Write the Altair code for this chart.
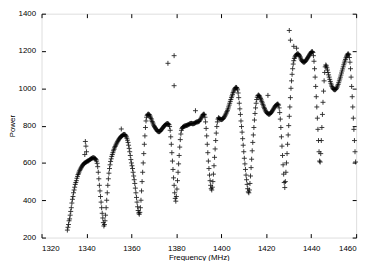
import altair as alt
import pandas as pd

# Sampling grid of the sweep (MHz)
FREQ_START = 1331.5
FREQ_STEP = 0.25

# Power, one value per sample
power = [
    240, 255,
    270, 290, 300, 320,
    340, 360, 385, 405,
    420, 440, 455, 470,
    485, 495, 505, 518,
    528, 538, 545, 552,
    560, 566, 572, 577,
    582, 587, 591, 595,
    598, 600, 602, 604,
    606, 608, 610, 611,
    612, 615, 618, 620,
    622, 624, 625, 627,
    628, 627, 626, 624,
    622, 618, 610, 598,
    580, 550, 515, 480,
    450, 420, 390, 360,
    330, 305, 280, 262,
    270, 290, 320, 360,
    400, 440, 480, 515,
    545, 570, 590, 608,
    622, 635, 645, 655,
    665, 673, 681, 688,
    695, 701, 707, 713,
    718, 723, 728, 732,
    736, 740, 743, 745,
    748, 750, 752, 753,
    752, 750, 746, 740,
    732, 722, 710, 695,
    678, 660, 640, 618,
    600, 585, 570, 550,
    530, 510, 490, 465,
    440, 415, 390, 365,
    345, 332, 325, 335,
    360, 400, 450, 500,
    550, 600, 650, 700,
    745, 790, 825, 845,
    855, 860, 862, 860,
    858, 852, 845, 838,
    830, 822, 815, 808,
    800, 795, 790, 785,
    780, 776, 772, 770,
    768, 767, 768, 770,
    773, 777, 781, 785,
    789, 793, 797, 800,
    803, 806, 808, 810,
    811, 810, 808, 805,
    795, 775, 740, 700,
    655, 610, 565, 520,
    480, 440, 410, 395,
    420, 460, 505, 550,
    595, 640, 685, 725,
    755, 775, 785, 790,
    793, 795, 797, 798,
    799, 800, 801, 802,
    803, 805, 806, 808,
    810, 811, 812, 812,
    811, 810, 810, 811,
    812, 814, 816, 818,
    819, 820, 820, 821,
    822, 825, 830, 835,
    840, 846, 852, 857,
    860, 862, 858, 845,
    820, 785, 745, 700,
    655, 610, 570, 535,
    505, 480, 462, 455,
    470, 500, 540, 585,
    630, 675, 720, 760,
    795, 820, 835, 842,
    840, 837, 835, 833,
    832, 833, 835, 837,
    840, 845, 850, 856,
    862, 868, 875, 882,
    890, 900, 910, 920,
    930, 940, 950, 959,
    968, 977, 985, 992,
    998, 1002, 1005, 1004,
    1000, 992, 975, 950,
    920, 890, 860, 825,
    795, 765, 730, 695,
    660, 625, 595, 565,
    535, 510, 485, 462,
    445, 440, 455, 490,
    530, 575, 620, 665,
    710, 750, 790, 830,
    865, 895, 920, 940,
    952, 960, 964, 962,
    958, 952, 945, 938,
    930, 922, 914, 906,
    898, 891, 884, 878,
    873, 869, 866, 864,
    862, 861, 862, 864,
    867, 871, 875, 880,
    885, 890, 895, 900,
    904, 908, 911, 914,
    915, 915, 910, 895,
    870, 835, 790, 740,
    690, 640, 590, 540,
    495, 468, 500, 550,
    600, 650, 700, 750,
    800, 850, 900, 950,
    1000, 1040, 1075, 1105,
    1130, 1148, 1160, 1168,
    1174, 1178, 1182, 1184,
    1185, 1184, 1181, 1176,
    1170, 1163, 1156, 1150,
    1146, 1143, 1141, 1140,
    1141, 1143, 1146, 1150,
    1155, 1160, 1165, 1170,
    1175, 1180, 1185, 1189,
    1193, 1196, 1197, 1192,
    1175, 1145, 1105, 1060,
    1010, 955, 900, 840,
    780, 720, 660, 610,
    605, 650, 720, 790,
    860, 925, 985, 1040,
    1085, 1115, 1125, 1120,
    1110, 1098, 1085, 1072,
    1060, 1048, 1037, 1027,
    1018, 1010, 1003, 998,
    995, 993, 992, 993,
    996, 1000, 1006, 1013,
    1021, 1030, 1040, 1050,
    1060, 1071, 1082, 1093,
    1104, 1115, 1126, 1136,
    1146, 1155, 1164, 1172,
    1178, 1183, 1185, 1180,
    1165, 1140, 1105, 1060,
    1010, 955, 900, 840,
    780, 720, 660, 605,
]

# Stray samples lying off the curve
out_freq = [1339.25, 1339.5, 1339.75, 1340.0, 1355.5, 1376.25, 1379.0, 1379.0,
            1388.5, 1420.75, 1430.25, 1430.75, 1432.25, 1433.5]
out_power = [645, 715, 690, 660, 782, 1134, 1175, 1014,
             880, 962, 1310, 1258, 1225, 1215]

x_ticks = [1320, 1340, 1360, 1380, 1400, 1420, 1440, 1460]
y_ticks = [200, 400, 600, 800, 1000, 1200, 1400]

main = pd.DataFrame({
    "f": [FREQ_START + i * FREQ_STEP for i in range(len(power))],
    "p": power,
})
outl = pd.DataFrame({"f": out_freq, "p": out_power})

PLUS = "M-1,0L1,0M0,-1L0,1"
FONT = "Liberation Sans"

xs = alt.Scale(domain=[1320, 1460], nice=False, zero=False)
ys = alt.Scale(domain=[200, 1400], nice=False, zero=False)

ax_common = dict(domain=False, grid=False, tickSize=4, offset=-4,
                 tickColor="black", tickWidth=1, format="d",
                 labelFont=FONT, labelFontSize=8, labelColor="black",
                 titleFont=FONT, titleFontSize=8, titleFontWeight="normal",
                 titleColor="black")

mark_kw = dict(shape=PLUS, filled=False, stroke="black", strokeWidth=0.9,
               size=25, opacity=0.85)

main_layer = alt.Chart(main).mark_point(**mark_kw).encode(
    x=alt.X("f:Q", scale=xs,
            axis=alt.Axis(values=x_ticks, title="Frequency (MHz)",
                          orient="bottom", labelPadding=7, titlePadding=1,
                          **ax_common)),
    y=alt.Y("p:Q", scale=ys,
            axis=alt.Axis(values=y_ticks, title="Power", orient="left",
                          labelPadding=6, titlePadding=2, **ax_common)),
)

out_layer = alt.Chart(outl).mark_point(**mark_kw).encode(
    x=alt.X("f:Q", scale=xs,
            axis=alt.Axis(values=x_ticks, title=None, labels=False,
                          orient="top", **ax_common)),
    y=alt.Y("p:Q", scale=ys,
            axis=alt.Axis(values=y_ticks, title=None, labels=False,
                          orient="right", **ax_common)),
)

chart = alt.layer(main_layer, out_layer).resolve_axis(
    x="independent", y="independent"
).properties(
    width=319, height=227,
    autosize=alt.AutoSizeParams(type="none"),
    padding={"left": 34, "top": 4, "right": 10, "bottom": 22},
).configure_view(stroke="black", strokeWidth=1).configure(background="white")

chart.save("out.html", embed_options={"renderer": "svg", "actions": False})
